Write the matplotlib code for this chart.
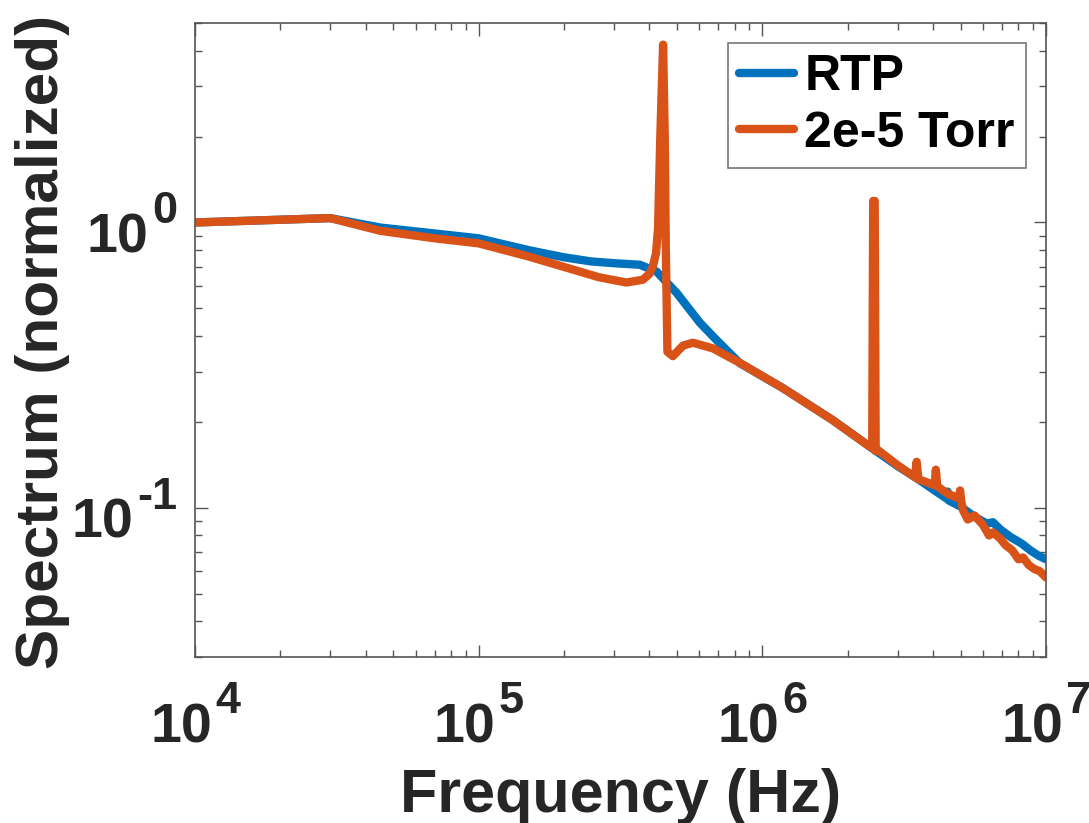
import numpy as np
import matplotlib
matplotlib.use("Agg")
import matplotlib.pyplot as plt

plt.rcParams['font.family'] = ['Liberation Sans', 'DejaVu Sans']
plt.rcParams['font.weight'] = 'bold'

# RTP spectrum
f_rtp = [1.0e4, 3.0e4, 4.5e4, 7.0e4, 1.0e5, 1.5e5, 2.0e5, 2.5e5, 3.0e5, 3.7e5,
         4.24e5, 5.0e5, 6.03e5, 6.9e5, 8.34e5, 1.18e6, 1.77e6, 2.39e6, 3.0e6,
         3.5e6, 4.0e6, 4.45e6, 4.5e6, 4.55e6, 5.0e6, 5.6e6, 6.2e6, 6.5e6,
         6.9e6, 7.5e6, 8.2e6, 8.8e6, 9.4e6, 1.0e7]
s_rtp = [1.0, 1.036, 0.96, 0.915, 0.88, 0.80, 0.755, 0.73, 0.72, 0.711,
         0.673, 0.565, 0.445, 0.387, 0.321, 0.263, 0.203, 0.164, 0.140,
         0.127, 0.116, 0.108, 0.114, 0.106, 0.101, 0.093, 0.088, 0.089,
         0.084, 0.079, 0.075, 0.071, 0.068, 0.066]

# 2e-5 Torr spectrum
f_torr = [1.0e4, 3.0e4, 4.5e4, 7.0e4, 1.0e5, 1.5e5, 2.27e5, 2.65e5, 3.32e5,
          3.79e5, 4.0e5, 4.11e5, 4.22e5, 4.29e5, 4.37e5, 4.47e5, 4.53e5,
          4.57e5, 4.63e5, 4.84e5, 5.25e5, 5.69e5, 6.7e5, 8.34e5, 1.18e6,
          1.77e6, 2.39e6, 2.44e6, 2.46e6, 2.49e6, 2.51e6, 2.54e6, 3.0e6,
          3.45e6, 3.5e6, 3.55e6, 4.05e6, 4.09e6, 4.14e6, 4.5e6, 4.94e6,
          4.98e6, 5.03e6, 5.1e6, 5.3e6, 5.6e6, 6.0e6, 6.3e6, 6.5e6, 6.9e6,
          7.2e6, 7.6e6, 8.0e6, 8.3e6, 8.7e6, 9.1e6, 9.5e6, 1.0e7]
s_torr = [1.0, 1.036, 0.935, 0.88, 0.845, 0.76, 0.673, 0.643, 0.616,
          0.63, 0.66, 0.70, 0.78, 0.95, 2.0, 4.2, 2.0,
          0.8, 0.352, 0.340, 0.37, 0.379, 0.362, 0.322, 0.263,
          0.203, 0.164, 0.162, 1.19, 1.19, 0.158, 0.160, 0.141,
          0.128, 0.145, 0.126, 0.120, 0.136, 0.119, 0.112, 0.108,
          0.115, 0.105, 0.098, 0.091, 0.094, 0.087, 0.080, 0.082, 0.078,
          0.074, 0.071, 0.066, 0.067, 0.063, 0.061, 0.060, 0.057]

x_exps = [4, 5, 6, 7]
y_exps = [0, -1]

fig = plt.figure(figsize=(10.89, 8.23), dpi=100)
ax = fig.add_axes([0.179, 0.2017, 0.7815, 0.7703])

lw = 6.0
ax.plot(f_rtp, s_rtp, color='#0072BD', lw=lw, label='RTP',
        solid_joinstyle='round', solid_capstyle='round')
ax.plot(f_torr, s_torr, color='#D95319', lw=lw, label='2e-5 Torr',
        solid_joinstyle='round', solid_capstyle='round')

ax.set_xscale('log')
ax.set_yscale('log')
ax.set_xlim(1e4, 1e7)
ax.set_ylim(0.03, 5)

ax.set_xticks([10.0 ** e for e in x_exps])
ax.set_yticks([10.0 ** e for e in y_exps])
ax.set_xticklabels([])
ax.set_yticklabels([])

ax.set_xlabel('Frequency (Hz)', fontsize=44, fontweight='bold', color='#262626')
ax.set_ylabel('Spectrum (normalized)', fontsize=43.5, fontweight='bold', color='#262626')
ax.xaxis.set_label_coords(0.5, -0.2445)
ax.xaxis.label.set_va('baseline')
ax.yaxis.set_label_coords(-0.161, 0.497)
ax.yaxis.label.set_va('baseline')

ax.tick_params(which='both', direction='in', top=True, right=True, colors='#555555')
ax.tick_params(which='major', length=9, width=1)
ax.tick_params(which='minor', length=5, width=1)
for sp in ax.spines.values():
    sp.set_color('#555555')
    sp.set_linewidth(1.2)

# tick labels as 10 + raised exponent
tc = '#262626'
for e in x_exps:
    ax.annotate('10', xy=(10.0 ** e, 0), xycoords=ax.get_xaxis_transform(),
                xytext=(17, -85), textcoords='offset pixels', ha='right',
                va='baseline', fontsize=40, fontweight='bold', color=tc,
                annotation_clip=False)
    ax.annotate(str(e), xy=(10.0 ** e, 0), xycoords=ax.get_xaxis_transform(),
                xytext=(20, -56), textcoords='offset pixels', ha='left',
                va='baseline', fontsize=32.5, fontweight='bold', color=tc,
                annotation_clip=False)

fig.canvas.draw()
r = fig.canvas.get_renderer()
for e in y_exps:
    ex = ax.annotate(str(e), xy=(0, 10.0 ** e), xycoords=ax.get_yaxis_transform(),
                     xytext=(-18, -1), textcoords='offset pixels', ha='right',
                     va='baseline', fontsize=32.5, fontweight='bold', color=tc,
                     annotation_clip=False)
    w = ex.get_window_extent(r).width
    ax.annotate('10', xy=(0, 10.0 ** e), xycoords=ax.get_yaxis_transform(),
                xytext=(-18 - w - 4, -30), textcoords='offset pixels', ha='right',
                va='baseline', fontsize=40, fontweight='bold', color=tc,
                annotation_clip=False)

leg = ax.legend(loc='upper right', fontsize=36, frameon=True, fancybox=False,
                handlelength=1.1, handletextpad=0.2, borderpad=0.22,
                labelspacing=0.21, borderaxespad=0.4)
leg.get_frame().set_edgecolor('#555555')
leg.get_frame().set_linewidth(1.2)
for t in leg.get_texts():
    t.set_fontweight('bold')

fig.savefig('out.png', dpi=100)
